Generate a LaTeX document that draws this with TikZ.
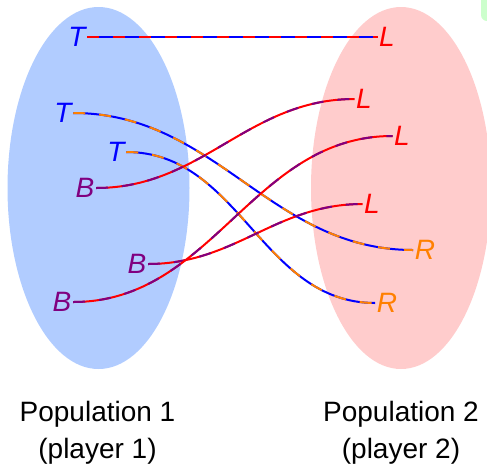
\documentclass[tikz,border=0pt]{standalone}
\usepackage{fontspec}
\setmainfont{Liberation Sans}
\definecolor{PopBlue}{RGB}{177,204,255}
\definecolor{PopPink}{RGB}{255,204,204}
\definecolor{Purp}{RGB}{128,0,128}
\definecolor{Orng}{RGB}{255,128,0}
\definecolor{Mint}{RGB}{204,255,204}

\begin{document}
\begin{tikzpicture}[x=1pt,y=-1pt,font=\fontsize{28}{37}\selectfont,
  st/.style={font=\fontsize{28}{37}\selectfont\itshape,inner sep=1.5pt},
  pop/.style={align=center,anchor=north,inner sep=0pt},
  ln/.style 2 args={draw=#1,line width=2pt,
    postaction={draw=#2,line width=2pt,dash pattern=on 12pt off 14pt}}]
\useasboundingbox (0,0) rectangle (487,467);
\clip (0,0) rectangle (487,467);

% ===== populations =====
\fill[Mint,rounded corners=6pt] (481,-10) rectangle (500,21);
\fill[PopBlue] (98.5,188) ellipse [x radius=91pt,y radius=181pt];
\fill[PopPink] (401,188) ellipse [x radius=90pt,y radius=181pt];

% ===== player 1 strategies =====
\node[st,blue] (t1) at (77,37) {T};
\node[st,blue] (t2) at (63,113) {T};
\node[st,blue] (t3) at (116,152) {T};
\node[st,Purp] (b1) at (85,188) {B};
\node[st,Purp] (b2) at (137,264) {B};
\node[st,Purp] (b3) at (62,302) {B};
% ===== player 2 strategies =====
\node[st,red] (l1) at (387,37) {L};
\node[st,red] (l2) at (364,99) {L};
\node[st,red] (l3) at (402,136) {L};
\node[st,red] (l4) at (372,204) {L};
\node[st,Orng] (r1) at (425,250) {R};
\node[st,Orng] (r2) at (387,303) {R};

% ===== pairings =====
\draw[ln={blue}{red}] (t1.east) -- (l1.west);
\draw[ln={blue}{Orng}] (t2.east) to[out=0,in=180] (r1.west);
\draw[ln={blue}{Orng}] (t3.east) to[out=0,in=180] (r2.west);
\draw[ln={red}{Purp}] (b1.east) to[out=0,in=180] (l2.west);
\draw[ln={red}{Purp}] (b2.east) to[out=0,in=180] (l4.west);
\draw[ln={red}{Purp}] (b3.east) to[out=0,in=180] (l3.west);

% ===== captions =====
\node[pop] (p1) at (97.5,401) {Population 1\\(player 1)};
\node[pop] (p2) at (401,401) {Population 2\\(player 2)};
\end{tikzpicture}
\end{document}
